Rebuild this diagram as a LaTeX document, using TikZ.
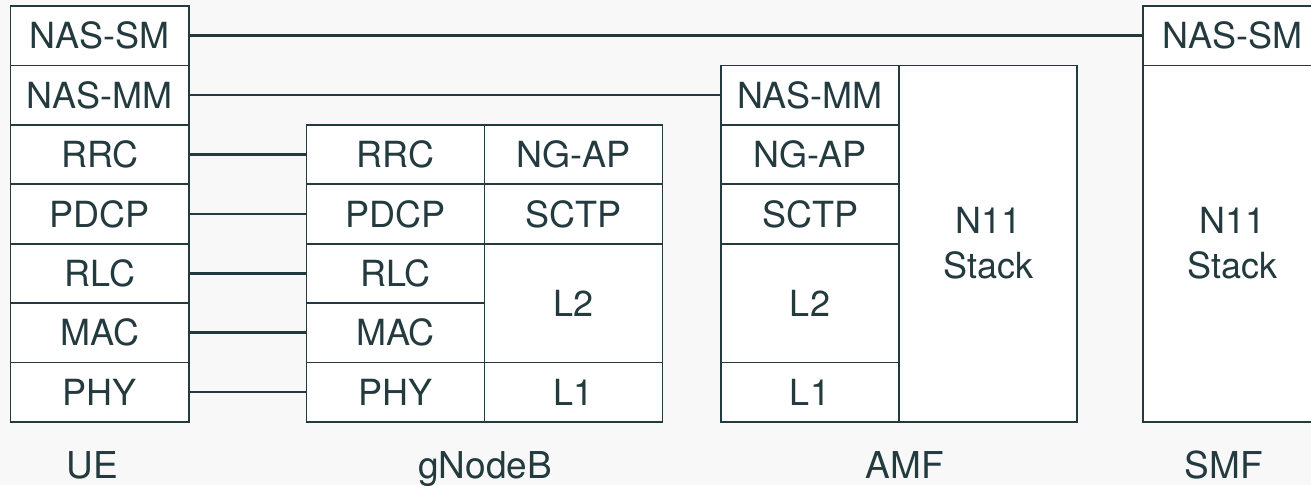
\documentclass[tikz,border=0pt]{standalone}
\usepackage{fontspec}
\setmainfont{TeX Gyre Heros}
\definecolor{ink}{RGB}{35,58,62}
\definecolor{bg}{RGB}{248,248,248}
\begin{document}
\begin{tikzpicture}[x=1pt,y=-1pt,
  layer/.style={draw=ink, line width=1.8pt, fill=white, text=ink, inner sep=0pt,
    minimum width=178pt, minimum height=59.4pt,
    font=\fontsize{36}{45}\selectfont, align=center},
  tall/.style={minimum height=118.8pt},
  full/.style={minimum height=356.4pt},
  link/.style={draw=ink, line width=2.6pt},
  lbl/.style={text=ink, font=\fontsize{37}{45}\selectfont, inner sep=0pt, anchor=base}]
\clip (0,0) rectangle (1311,485);
\fill[bg] (0,0) rectangle (1311,485);
% UE
\node[layer, minimum width=178.5pt] (ue1) at (99.75,35.7) {NAS-SM};
\node[layer, minimum width=178.5pt] (ue2) at (99.75,95.1) {NAS-MM};
\node[layer, minimum width=178.5pt] (ue3) at (99.75,154.5) {RRC};
\node[layer, minimum width=178.5pt] (ue4) at (99.75,213.9) {PDCP};
\node[layer, minimum width=178.5pt] (ue5) at (99.75,273.3) {RLC};
\node[layer, minimum width=178.5pt] (ue6) at (99.75,332.7) {MAC};
\node[layer, minimum width=178.5pt] (ue7) at (99.75,392.1) {PHY};
% gNodeB
\node[layer] (gn3) at (395.5,154.5) {RRC};
\node[layer] (gn4) at (395.5,213.9) {PDCP};
\node[layer] (gn5) at (395.5,273.3) {RLC};
\node[layer] (gn6) at (395.5,332.7) {MAC};
\node[layer] (gn7) at (395.5,392.1) {PHY};
\node[layer] (gr1) at (573.5,154.5) {NG-AP};
\node[layer] (gr2) at (573.5,213.9) {SCTP};
\node[layer, tall] (gr3) at (573.5,303) {L2};
\node[layer] (gr4) at (573.5,392.1) {L1};
% AMF
\node[layer] (am1) at (810,95.1) {NAS-MM};
\node[layer] (am2) at (810,154.5) {NG-AP};
\node[layer] (am3) at (810,213.9) {SCTP};
\node[layer, tall] (am4) at (810,303) {L2};
\node[layer] (am5) at (810,392.1) {L1};
\node[layer, full, minimum width=178.3pt] (amn) at (988.15,243.6) {N11\\Stack};
% SMF
\node[layer] (sm1) at (1232.3,35.7) {NAS-SM};
\node[layer, full] (smn) at (1232.3,243.6) {N11\\Stack};
% connectors
\draw[link] (ue1.east) -- (sm1.west);
\draw[link] (ue2.east) -- (am1.west);
\draw[link] (ue3.east) -- (gn3.west);
\draw[link] (ue4.east) -- (gn4.west);
\draw[link] (ue5.east) -- (gn5.west);
\draw[link] (ue6.east) -- (gn6.west);
\draw[link] (ue7.east) -- (gn7.west);
% labels
\node[lbl] (lue) at (92,478.3) {UE};
\node[lbl] (lgn) at (485,478.3) {gNodeB};
\node[lbl] (lam) at (905,478.3) {AMF};
\node[lbl] (lsm) at (1224,478.3) {SMF};
\end{tikzpicture}
\end{document}
